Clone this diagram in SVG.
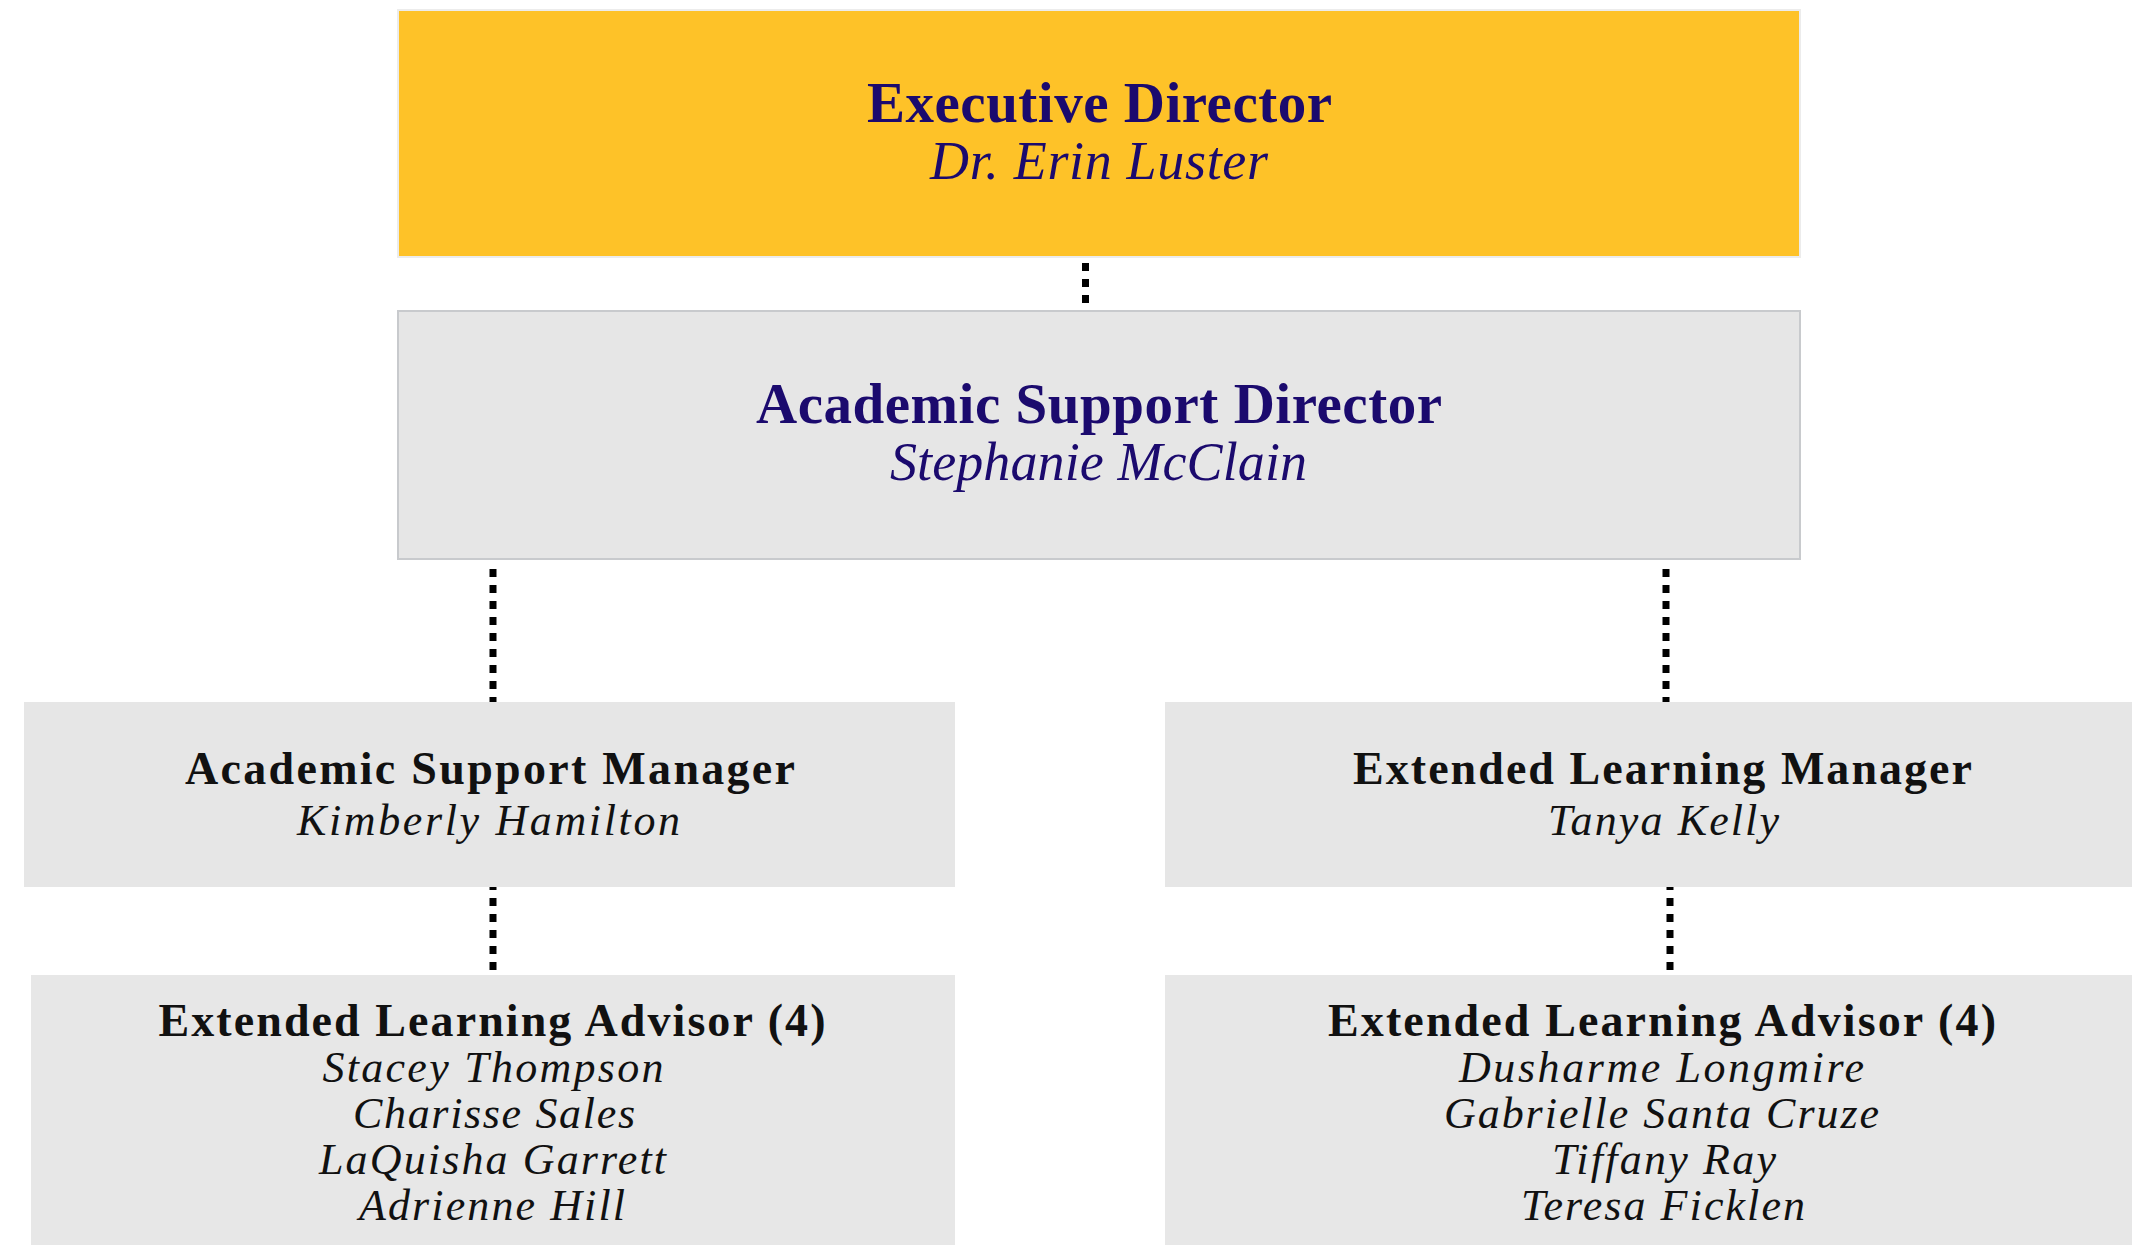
<svg xmlns="http://www.w3.org/2000/svg" width="2132" height="1245" viewBox="0 0 2132 1245">
<style>
.t{font-family:"Liberation Serif","Times New Roman",serif;text-anchor:middle}
.b{font-weight:bold}
.i{font-style:italic}
.navy{fill:#1b0a6e}
.blk{fill:#111111}
.box{fill:#e6e6e6}
.conn{stroke:#000;stroke-width:7;stroke-dasharray:8 8;fill:none}
</style>
<rect width="2132" height="1245" fill="#ffffff"/>
<g id="connectors">
<line class="conn" x1="1085.5" y1="263" x2="1085.5" y2="303"/>
<line class="conn" x1="493" y1="561" x2="493" y2="702" stroke-dashoffset="8"/>
<line class="conn" x1="1666" y1="561" x2="1666" y2="702" stroke-dashoffset="8"/>
<line class="conn" x1="493" y1="887" x2="493" y2="975" stroke-dashoffset="5"/>
<line class="conn" x1="1670" y1="887" x2="1670" y2="975" stroke-dashoffset="5"/>
</g>
<g id="executive-director">
<rect x="398" y="10" width="1402" height="247" fill="#fec228" stroke="#ececec" stroke-width="2"/>
<text class="t b navy" x="1099.5" y="122" font-size="57" textLength="465" lengthAdjust="spacing">Executive Director</text>
<text class="t i navy" x="1099" y="179" font-size="54" textLength="338" lengthAdjust="spacing">Dr. Erin Luster</text>
</g>
<g id="academic-support-director">
<rect x="398" y="311" width="1402" height="248" class="box" stroke="#c8cacd" stroke-width="2"/>
<text class="t b navy" x="1099" y="423" font-size="57" textLength="686" lengthAdjust="spacing">Academic Support Director</text>
<text class="t i navy" x="1098.5" y="480" font-size="54" textLength="417" lengthAdjust="spacing">Stephanie McClain</text>
</g>
<g id="academic-support-manager">
<rect x="24" y="702" width="931" height="185" class="box"/>
<text class="t b blk" x="490" y="784" font-size="46" textLength="610" lengthAdjust="spacing">Academic Support Manager</text>
<text class="t i blk" x="488.5" y="835" font-size="44" textLength="383" lengthAdjust="spacing">Kimberly Hamilton</text>
</g>
<g id="extended-learning-manager">
<rect x="1165" y="702" width="1000" height="185" class="box"/>
<text class="t b blk" x="1662.5" y="784" font-size="46" textLength="619" lengthAdjust="spacing">Extended Learning Manager</text>
<text class="t i blk" x="1663.5" y="835" font-size="44" textLength="231" lengthAdjust="spacing">Tanya Kelly</text>
</g>
<g id="advisors-left">
<rect x="31" y="975" width="924" height="280" fill="#e7e7e7"/>
<text class="t b blk" x="492" y="1036" font-size="46" textLength="667" lengthAdjust="spacing">Extended Learning Advisor (4)</text>
<text class="t i blk" x="493" y="1082" font-size="44" textLength="341" lengthAdjust="spacing">Stacey Thompson</text>
<text class="t i blk" x="494" y="1128" font-size="44" textLength="282" lengthAdjust="spacing">Charisse Sales</text>
<text class="t i blk" x="492.5" y="1174" font-size="44" textLength="347" lengthAdjust="spacing">LaQuisha Garrett</text>
<text class="t i blk" x="492" y="1220" font-size="44" textLength="266" lengthAdjust="spacing">Adrienne Hill</text>
</g>
<g id="advisors-right">
<rect x="1165" y="975" width="1000" height="280" fill="#e7e7e7"/>
<text class="t b blk" x="1662" y="1036" font-size="46" textLength="668" lengthAdjust="spacing">Extended Learning Advisor (4)</text>
<text class="t i blk" x="1661.5" y="1082" font-size="44" textLength="405" lengthAdjust="spacing">Dusharme Longmire</text>
<text class="t i blk" x="1661.5" y="1128" font-size="44" textLength="435" lengthAdjust="spacing">Gabrielle Santa Cruze</text>
<text class="t i blk" x="1664" y="1174" font-size="44" textLength="224" lengthAdjust="spacing">Tiffany Ray</text>
<text class="t i blk" x="1663" y="1220" font-size="44" textLength="284" lengthAdjust="spacing">Teresa Ficklen</text>
</g>
</svg>
